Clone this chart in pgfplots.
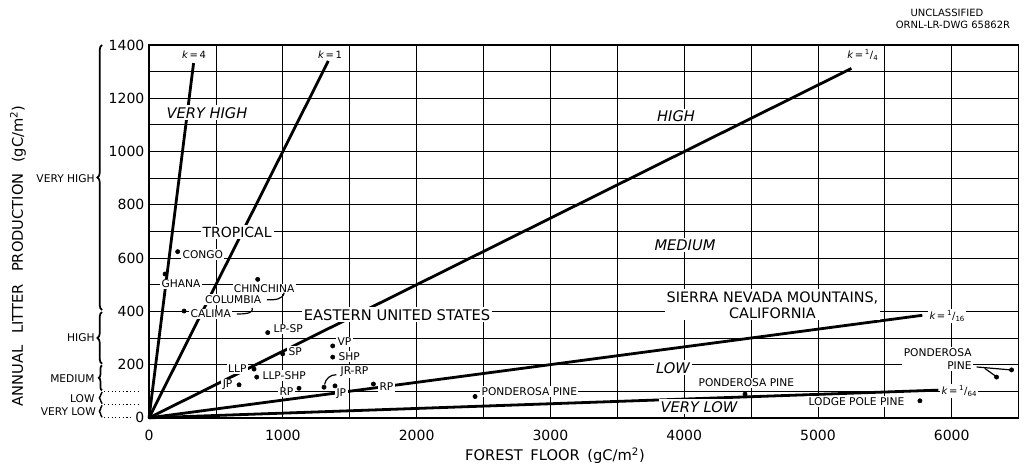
\documentclass[border=0pt]{standalone}
\usepackage{pgfplots}
\pgfplotsset{compat=1.18}
\usepackage{fontspec}
\setmainfont{DejaVu Sans}
\usetikzlibrary{decorations.pathreplacing}
\newcommand{\kk}{{\itshape k}\,=\,}
\begin{document}
\begin{tikzpicture}
\tikzset{
  lab/.style={fill=white, inner sep=1pt, font=\fontsize{8}{9.6}\selectfont},
  big/.style={fill=white, inner sep=1.5pt, font=\fontsize{11}{12}\selectfont},
  reg/.style={fill=white, inner sep=1.5pt, font=\fontsize{11}{12}\selectfont\itshape},
  klab/.style={fill=white, inner sep=1pt, font=\fontsize{7.5}{9}\selectfont},
  kline/.style={black, line width=2.1pt},
}
\begin{axis}[
  scale only axis,
  width=652.5pt, height=279.75pt,
  xmin=0, xmax=6500, ymin=0, ymax=1400,
  xtick={0,1000,...,6000},
  ytick={0,200,...,1400},
  minor xtick={500,1500,...,6000},
  minor ytick={100,300,...,1300},
  grid=both,
  major grid style={black, line width=0.6pt},
  minor grid style={black, line width=0.6pt},
  axis line style={black, line width=1.2pt},
  major tick length=0pt, minor tick length=0pt,
  /pgf/number format/assume math mode=true,
  /pgf/number format/1000 sep={},
  tick label style={font=\fontsize{10.5}{12}\selectfont},
  xticklabel style={yshift=-6pt},
  clip=false,
]
% bounding frame of the whole picture (1028 x 467 px)
\path (axis cs:-1114,-184) rectangle (axis cs:6570,1569);

% k lines
\addplot[kline] coordinates {(0,0) (333,1332)};
\addplot[kline] coordinates {(0,0) (1340,1340)};
\addplot[kline] coordinates {(0,0) (5250,1312)};
\addplot[kline] coordinates {(0,0) (5780,385)};
\addplot[kline] coordinates {(0,0) (5900,104)};

% k labels
\node[klab] at (axis cs:336,1362) {\kk 4};
\node[klab] at (axis cs:1353,1362) {\kk 1};
\node[klab] at (axis cs:5336,1362) {\kk\textsuperscript{1}/\textsubscript{4}};
\node[klab, anchor=west] at (axis cs:5822,383) {\kk\textsuperscript{1}/\textsubscript{16}};
\node[klab, anchor=west] at (axis cs:5912,101) {\kk\textsuperscript{1}/\textsubscript{64}};

% region labels
\node[reg] at (axis cs:433,1145) {VERY HIGH};
\node[reg] at (axis cs:3939,1133) {HIGH};
\node[reg] at (axis cs:4006,649) {MEDIUM};
\node[reg] at (axis cs:3916,188) {LOW};
\node[reg] at (axis cs:4111,41) {VERY LOW};
\node[big, font=\fontsize{10.5}{12}\selectfont] at (axis cs:658,698) {TROPICAL};
\node[big] at (axis cs:1854,387) {EASTERN UNITED STATES};
\node[big, align=center, font=\fontsize{10.8}{12}\selectfont] at (axis cs:4660,424) {SIERRA NEVADA MOUNTAINS,\\CALIFORNIA};

% site labels
\node[lab, anchor=west] at (axis cs:239,612) {CONGO};
\node[lab] at (axis cs:239,503) {GHANA};
\node[lab] at (axis cs:860,484) {CHINCHINA};
\node[lab] at (axis cs:628,443) {COLUMBIA};
\node[lab, anchor=west] at (axis cs:299,390) {CALIMA};
\node[lab, anchor=west] at (axis cs:919,334) {LP-SP};
\node[lab, anchor=west] at (axis cs:1031,248) {SP};
\node[lab, anchor=east] at (axis cs:740,184) {LLP};
\node[lab, anchor=west] at (axis cs:837,158) {LLP-SHP};
\node[lab, anchor=east] at (axis cs:635,124) {JP};
\node[lab, anchor=east] at (axis cs:1091,98) {RP};
\node[lab, anchor=west] at (axis cs:1398,285) {VP};
\node[lab, anchor=west] at (axis cs:1405,229) {SHP};
\node[lab, anchor=west] at (axis cs:1420,173) {JR-RP};
\node[lab, anchor=west] at (axis cs:1390,90) {JP};
\node[lab, anchor=west] at (axis cs:1711,116) {RP};
\node[lab, anchor=west] at (axis cs:2474,98) {PONDEROSA PINE};
\node[lab, anchor=west] at (axis cs:4096,131) {PONDEROSA PINE};
\node[lab, anchor=west] at (axis cs:4918,60) {LODGE POLE PINE};
\node[lab, anchor=east, align=right] at (axis cs:6160,221) {PONDEROSA\\PINE};

% leader lines
\draw[line width=0.9pt] (axis cs:880,443) to[out=0,in=-100] (axis cs:1010,470);
\draw[line width=0.9pt] (axis cs:657,390) to[out=0,in=-70] (axis cs:770,413);
\draw[line width=0.9pt] (axis cs:1400,162) to[out=180,in=80] (axis cs:1312,125);
\draw[line width=0.9pt] (axis cs:6186,191) -- (axis cs:6440,180);
\draw[line width=0.9pt] (axis cs:6246,186) -- (axis cs:6335,154);

% data points
\addplot[only marks, mark=*, mark size=1.6pt, black] coordinates {
(214,624) (120,540) (812,520) (262,401) (887,320) (999,240) (785,183)
(805,153) (673,124) (1121,111) (1373,270) (1373,228) (1308,115) (1390,120)
(1677,127) (2437,80) (4455,89) (5762,64) (6447,180) (6335,153)};

% left braces and classes
\draw[decorate, decoration={brace, amplitude=3.5pt}, line width=1.3pt] (axis cs:-351,405) -- (axis cs:-351,1400);
\draw[decorate, decoration={brace, amplitude=3.5pt}, line width=1.3pt] (axis cs:-351,203) -- (axis cs:-351,397);
\draw[decorate, decoration={brace, amplitude=2.5pt}, line width=1.3pt] (axis cs:-351,103) -- (axis cs:-351,197);
\draw[decorate, decoration={brace, amplitude=2pt}, line width=1.1pt] (axis cs:-351,53) -- (axis cs:-351,97);
\draw[decorate, decoration={brace, amplitude=2pt}, line width=1.1pt] (axis cs:-351,2) -- (axis cs:-351,47);
\draw[dotted, line width=0.8pt] (axis cs:-336,100) -- (axis cs:-67,100);
\draw[dotted, line width=0.8pt] (axis cs:-336,50) -- (axis cs:-67,50);
\draw[dotted, line width=0.8pt] (axis cs:-336,0) -- (axis cs:-120,0);
\node[font=\fontsize{8}{9.6}\selectfont, anchor=east, inner sep=0pt] at (axis cs:-405,900) {VERY HIGH};
\node[font=\fontsize{8}{9.6}\selectfont, anchor=east, inner sep=0pt] at (axis cs:-405,300) {HIGH};
\node[font=\fontsize{8}{9.6}\selectfont, anchor=east, inner sep=0pt] at (axis cs:-405,148) {MEDIUM};
\node[font=\fontsize{8}{9.6}\selectfont, anchor=east, inner sep=0pt] at (axis cs:-405,73) {LOW};
\node[font=\fontsize{8}{9.6}\selectfont, anchor=east, inner sep=0pt] at (axis cs:-395,22) {VERY LOW};

% axis titles
\node[rotate=90, font=\fontsize{11}{12}\selectfont] at (axis cs:-979,608) {ANNUAL\hspace{0.5em} LITTER\hspace{0.5em} PRODUCTION\hspace{0.4em} (gC/m\textsuperscript{2})};
\node[font=\fontsize{11}{12}\selectfont] at (axis cs:3034,-142) {FOREST\hspace{0.2em} FLOOR\hspace{0.2em} (gC/m\textsuperscript{2})};

% header
\node[font=\fontsize{7.5}{9}\selectfont] at (axis cs:5964,1520) {UNCLASSIFIED};
\node[font=\fontsize{7.5}{9}\selectfont] at (axis cs:6009,1475) {ORNL-LR-DWG 65862R};
\end{axis}
\end{tikzpicture}
\end{document}
